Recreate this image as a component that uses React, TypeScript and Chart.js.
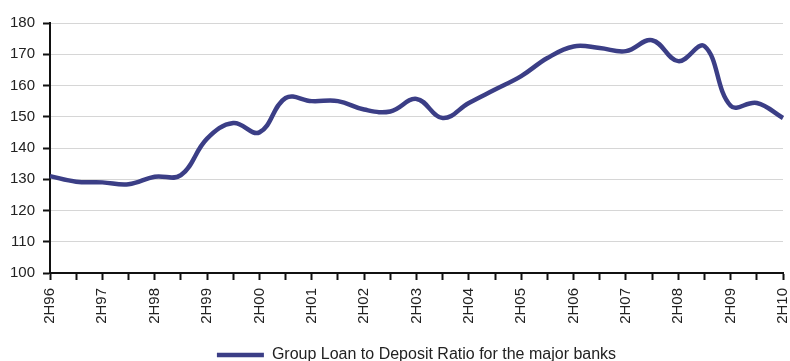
import { useEffect, useRef } from 'react';
import { Chart, registerables } from 'chart.js';

Chart.register(...registerables);

const categories = [
  '2H96', '1H97', '2H97', '1H98', '2H98', '1H99', '2H99', '1H00', '2H00', '1H01',
  '2H01', '1H02', '2H02', '1H03', '2H03', '1H04', '2H04', '1H05', '2H05', '1H06',
  '2H06', '1H07', '2H07', '1H08', '2H08', '1H09', '2H09', '1H10', '2H10',
];

const loanToDeposit = [
  131, 129.2, 129, 128.4, 130.8, 131.3, 143, 148, 145, 156,
  155, 155, 152.3, 151.7, 155.7, 149.6, 154.4, 158.7, 163, 168.8,
  172.5, 172, 171, 174.5, 167.8, 172.6, 153.5, 154.4, 149.6,
];

const seriesLabel = 'Group Loan to Deposit Ratio for the major banks';
const yTicks = { min: 100, max: 180, step: 10 };

export default function App() {
  const ref = useRef<HTMLCanvasElement | null>(null);

  useEffect(() => {
    document.body.style.margin = '0';
    const canvas = ref.current;
    if (!canvas) return;
    const font = '"Liberation Sans", Arial, sans-serif';
    const color = '#3b3e86';
    const chart = new Chart(canvas, {
      type: 'line',
      data: {
        labels: categories,
        datasets: [
          {
            label: seriesLabel,
            data: loanToDeposit,
            borderColor: color,
            backgroundColor: color,
            borderWidth: 4.5,
            pointRadius: 0,
            tension: 0.4,
            fill: false,
          },
        ],
      },
      options: {
        animation: false,
        responsive: false,
        layout: { padding: { top: 23, right: 7, left: 0, bottom: -12 } },
        plugins: {
          tooltip: { enabled: false },
          legend: {
            position: 'bottom',
            fullSize: false,
            labels: {
              usePointStyle: true,
              pointStyle: 'line',
              pointStyleWidth: 47,
              boxHeight: 16,
              padding: 2,
              color: '#222',
              font: { family: font, size: 16 },
            },
          },
        },
        scales: {
          x: {
            type: 'category',
            offset: false,
            grid: {
              display: true,
              drawOnChartArea: false,
              drawTicks: true,
              tickLength: 7,
              tickColor: '#111',
              tickWidth: 2,
            },
            border: { color: '#111', width: 2 },
            ticks: {
              autoSkip: false,
              maxRotation: 90,
              minRotation: 90,
              padding: 8,
              color: '#222',
              font: { family: font, size: 15 },
              callback: (_v: any, i: number) => (i % 2 === 0 ? categories[i] : ''),
            },
            afterFit: (s: any) => {
              s.height = 72;
              s.paddingRight = 0;
              s.paddingLeft = 0;
            },
          },
          y: {
            min: yTicks.min,
            max: yTicks.max,
            grid: {
              color: '#d6d6d6',
              lineWidth: 1,
              tickColor: '#111',
              tickWidth: 2,
              tickLength: 7,
            },
            border: { color: '#111', width: 2 },
            ticks: {
              stepSize: yTicks.step,
              padding: 8,
              color: '#222',
              font: { family: font, size: 15 },
            },
            afterFit: (s: any) => {
              s.width = 50;
            },
          },
        },
      },
    });
    return () => chart.destroy();
  }, []);

  return (
    <div style={{ width: 790, height: 361, background: '#fff' }}>
      <canvas ref={ref} width={790} height={361} style={{ display: 'block' }} />
    </div>
  );
}
